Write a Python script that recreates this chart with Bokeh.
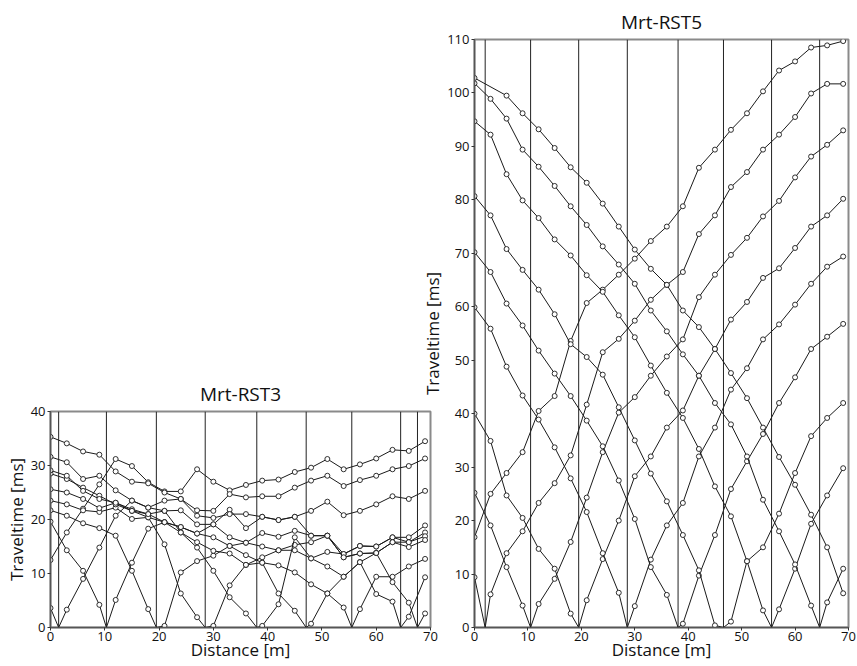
from bokeh.plotting import figure
from bokeh.models import Span, Range1d, FixedTicker, ColumnDataSource, Spacer
from bokeh.layouts import row, column
from bokeh.embed import file_html
from bokeh.resources import INLINE

# ---------------- data ----------------
receivers = [0, 3, 6, 9, 12, 15, 18, 21, 24, 27, 30, 33, 36, 39, 42, 45, 48, 51, 54, 57, 60, 63, 66, 69]

# Mrt-RST5 : shot positions (None = off-end shot outside the spread)
rst5_shot_pos = [None, 2.0, 10.5, 19.5, 28.6, 38.1, 46.6, 55.6, 64.6, None]
rst5_t0 = [16.9, 25.0, 28.9, 32.8, 40.5, 43.3, 53.6, 60.7, 63.2, 66.0, 69.0, 72.3, 75.0, 78.8, 86.0, 89.4, 93.1, 96.2, 100.3, 104.2, 105.9, 108.5, 108.9, 109.7]
rst5_t1 = [9.4, 6.2, 13.9, 18.0, 23.3, 27.0, 32.2, 41.7, 51.5, 54.0, 57.4, 61.3, 64.1, 66.5, 73.6, 77.1, 82.4, 85.2, 89.4, 92.2, 95.5, 99.9, 101.7, 101.7]
rst5_t2 = [25.2, 19.1, 11.3, 4.1, 4.4, 9.1, 16.0, 24.3, 32.8, 40.2, 43.1, 47.1, 50.7, 53.9, 61.8, 66.0, 69.7, 72.9, 76.9, 79.8, 84.2, 88.1, 90.3, 93.0]
rst5_t3 = [40.0, 34.9, 24.7, 20.5, 14.7, 11.0, 2.6, 5.1, 12.8, 20.0, 28.3, 32.0, 37.4, 40.6, 47.1, 52.1, 57.6, 60.9, 65.4, 67.2, 71.0, 75.0, 77.1, 80.2]
rst5_t4 = [59.9, 55.9, 48.8, 43.4, 38.9, 33.7, 27.9, 21.6, 13.9, 6.5, 4.0, 12.7, 19.1, 23.3, 32.0, 37.4, 44.5, 48.5, 53.9, 56.7, 60.4, 64.3, 67.5, 69.4]
rst5_t5 = [70.2, 66.5, 60.6, 56.5, 51.8, 47.5, 43.3, 38.7, 33.9, 27.5, 20.3, 11.3, 6.1, 0.7, 9.7, 17.3, 25.9, 31.1, 36.2, 42.0, 46.8, 52.1, 54.4, 56.8]
rst5_t6 = [80.7, 77.1, 70.8, 66.9, 63.2, 58.6, 53.0, 50.6, 47.3, 41.2, 35.0, 28.8, 23.6, 17.3, 10.7, 0.4, 1.1, 12.4, 15.0, 21.3, 28.9, 35.8, 39.2, 42.0]
rst5_t7 = [94.7, 92.2, 84.8, 79.9, 76.6, 72.6, 69.6, 65.9, 62.8, 58.4, 54.3, 49.0, 43.9, 39.2, 33.4, 26.4, 20.8, 12.4, 3.2, 3.4, 11.0, 19.4, 24.7, 29.8]
rst5_t8 = [101.8, 98.9, 95.2, 89.4, 86.2, 82.6, 78.8, 75.3, 71.3, 67.9, 64.3, 59.3, 55.4, 51.1, 47.1, 42.0, 38.0, 32.0, 23.9, 18.0, 11.8, 4.1, 4.7, 11.0]
rst5_t9 = [102.8, None, 99.5, 96.2, 93.2, 89.7, 86.1, 83.2, 79.3, 75.0, 70.7, 67.1, 64.1, 59.3, 56.2, 52.1, 47.6, 42.9, 37.4, 31.9, 26.7, 21.1, 15.0, 6.4]
rst5_times = [rst5_t0, rst5_t1, rst5_t2, rst5_t3, rst5_t4, rst5_t5, rst5_t6, rst5_t7, rst5_t8, rst5_t9]
rst5_lines = [2.0, 10.5, 19.5, 28.6, 38.1, 46.6, 55.6, 64.6]

# Mrt-RST3
rst3_shot_pos = [None, 1.5, 10.3, 19.5, 28.5, 38.0, 47.1, 55.5, 64.5, 67.6]
rst3_t0 = [12.5, 17.6, 22.0, 26.5, 31.2, 29.9, 26.9, 25.2, 25.2, 29.3, 27.0, 25.4, 26.4, 27.2, 27.4, 28.8, 29.6, 31.2, 29.3, 30.2, 31.3, 32.9, 32.7, 34.5]
rst3_t1 = [3.6, 3.3, 9.0, 14.8, 20.7, 23.5, 22.2, 23.5, 23.8, 21.7, 21.6, 24.7, 24.1, 24.3, 24.3, 25.9, 27.2, 28.1, 26.2, 27.3, 28.1, 29.3, 29.9, 31.3]
rst3_t2 = [19.6, 14.3, 10.5, 4.2, 5.1, 12.0, 18.3, 19.5, 18.6, 17.4, 19.1, 21.8, 18.4, 20.5, 19.9, 20.5, 21.6, 23.3, 20.8, 21.6, 22.8, 24.3, 23.8, 25.3]
rst3_t3 = [21.7, 20.7, 19.3, 18.4, 17.0, 10.5, 3.4, 0.3, 10.2, 12.3, 13.3, 15.1, 15.7, 17.5, 16.8, 17.9, 17.0, 17.0, 13.6, 15.1, 15.0, 16.7, 16.7, 18.9]
rst3_t4 = [23.5, 22.8, 21.7, 21.4, 22.2, 20.1, 20.4, 15.4, 6.3, 1.9, 0.3, 7.8, 11.6, 13.0, 14.3, 15.3, 15.8, 17.0, 13.0, 13.7, 13.8, 15.8, 15.8, 17.6]
rst3_t5 = [25.6, 25.0, 23.8, 22.1, 23.1, 21.9, 21.0, 21.6, 17.6, 14.8, 10.5, 5.6, 2.6, 0.3, 4.3, 16.7, 12.8, 14.0, 13.6, 15.1, 15.0, 16.7, 15.8, 16.9]
rst3_t6 = [28.5, 27.5, 25.9, 24.4, 22.8, 21.6, 20.4, 19.5, 18.6, 17.4, 16.7, 15.1, 13.4, 12.0, 6.3, 3.1, 0.7, 6.3, 9.4, 12.1, 13.8, 15.8, 14.9, 16.2]
rst3_t7 = [29.1, 28.1, 25.3, 23.8, 23.1, 21.6, 21.0, 19.5, 17.6, 15.8, 14.2, 13.7, 11.6, 12.0, 11.5, 10.2, 8.0, 6.3, 3.7, 3.4, 9.4, 9.4, 11.3, 12.7]
rst3_t8 = [31.6, 30.6, 27.5, 28.1, 25.4, 23.5, 22.2, 21.6, 21.7, 19.1, 19.1, 16.7, 15.7, 15.0, 14.3, 14.3, 12.8, 11.3, 9.4, 12.1, 6.2, 4.8, 2.0, 9.3]
rst3_t9 = [35.3, 34.1, 32.6, 32.0, 28.9, 27.0, 26.7, 25.0, 23.8, 20.7, 20.3, 21.0, 21.0, 20.5, 19.9, 20.5, 17.0, 17.0, 13.0, 13.7, 13.8, 8.4, 4.6, 2.6]
rst3_times = [rst3_t0, rst3_t1, rst3_t2, rst3_t3, rst3_t4, rst3_t5, rst3_t6, rst3_t7, rst3_t8, rst3_t9]
rst3_lines = [1.5, 10.3, 19.5, 28.5, 38.0, 47.1, 55.5, 64.5, 67.6]

x_ticks = [0, 10, 20, 30, 40, 50, 60, 70]
rst3_y_ticks = [0, 10, 20, 30, 40]
rst5_y_ticks = [0, 10, 20, 30, 40, 50, 60, 70, 80, 90, 100, 110]

FONT = "Open Sans"


def style(p, yticks):
    p.xgrid.visible = False
    p.ygrid.visible = False
    p.outline_line_color = "#8a8a8a"
    p.outline_line_width = 2
    p.xaxis.ticker = FixedTicker(ticks=x_ticks)
    p.yaxis.ticker = FixedTicker(ticks=yticks)
    for ax in (p.xaxis[0], p.yaxis[0]):
        ax.axis_line_color = "#555555"
        ax.axis_line_width = 1.5
        ax.major_tick_out = 3
        ax.major_tick_in = 0
        ax.minor_tick_out = 0
        ax.minor_tick_in = 0
        ax.major_tick_line_color = "#333333"
        ax.major_label_text_font = FONT
        ax.major_label_text_font_size = "13px"
        ax.major_label_text_color = "#111111"
        ax.axis_label_text_font = FONT
        ax.axis_label_text_font_size = "17px"
        ax.axis_label_text_font_style = "normal"
        ax.axis_label_text_color = "#111111"
    p.yaxis.axis_label_standoff = 0
    p.yaxis.major_label_standoff = 2
    p.xaxis.major_label_standoff = 1
    p.xaxis.axis_label_standoff = -6
    p.xaxis.axis_label = "Distance [m]"
    p.yaxis.axis_label = "Traveltime [ms]"
    p.title.align = "center"
    p.title.text_font = FONT
    p.title.text_font_size = "19px"
    p.title.text_font_style = "normal"
    p.title.text_color = "#111111"


def draw(p, shot_pos, times, lines):
    for s in lines:
        p.add_layout(Span(location=s, dimension="height", line_color="#222222", line_width=1))
    for sp, t in zip(shot_pos, times):
        pts = [(x, y) for x, y in zip(receivers, t) if y is not None]
        lx = [x for x, _ in pts]
        ly = [y for _, y in pts]
        if sp is not None:
            i = sum(1 for x in lx if x < sp)
            lx = lx[:i] + [sp] + lx[i:]
            ly = ly[:i] + [0.0] + ly[i:]
        p.line(lx, ly, line_color="#1a1a1a", line_width=1)
        src = ColumnDataSource(dict(x=[x for x, _ in pts], y=[y for _, y in pts]))
        p.scatter("x", "y", source=src, marker="circle", size=5,
                  fill_color="white", line_color="#1a1a1a", line_width=0.9)


pL = figure(output_backend="svg", toolbar_location=None, title="Mrt-RST3",
            x_range=Range1d(0, 70), y_range=Range1d(0, 40),
            frame_width=380, frame_height=216, frame_align=False,
            min_border_left=50, min_border_right=10, min_border_top=39, min_border_bottom=39)
style(pL, rst3_y_ticks)
draw(pL, rst3_shot_pos, rst3_times, rst3_lines)

pR = figure(output_backend="svg", toolbar_location=None, title="Mrt-RST5",
            x_range=Range1d(0, 70), y_range=Range1d(0, 110),
            frame_width=374, frame_height=588, frame_align=False,
            min_border_left=56, min_border_right=9, min_border_top=39, min_border_bottom=39,
            border_fill_alpha=0,
            stylesheets=[":host { margin-left: -22px !important; }"])
style(pR, rst5_y_ticks)
draw(pR, rst5_shot_pos, rst5_times, rst5_lines)

left_col = column(Spacer(width=440, height=372), pL)
layout = row(left_col, pR)
open("out.html", "w").write(file_html(layout, INLINE))
